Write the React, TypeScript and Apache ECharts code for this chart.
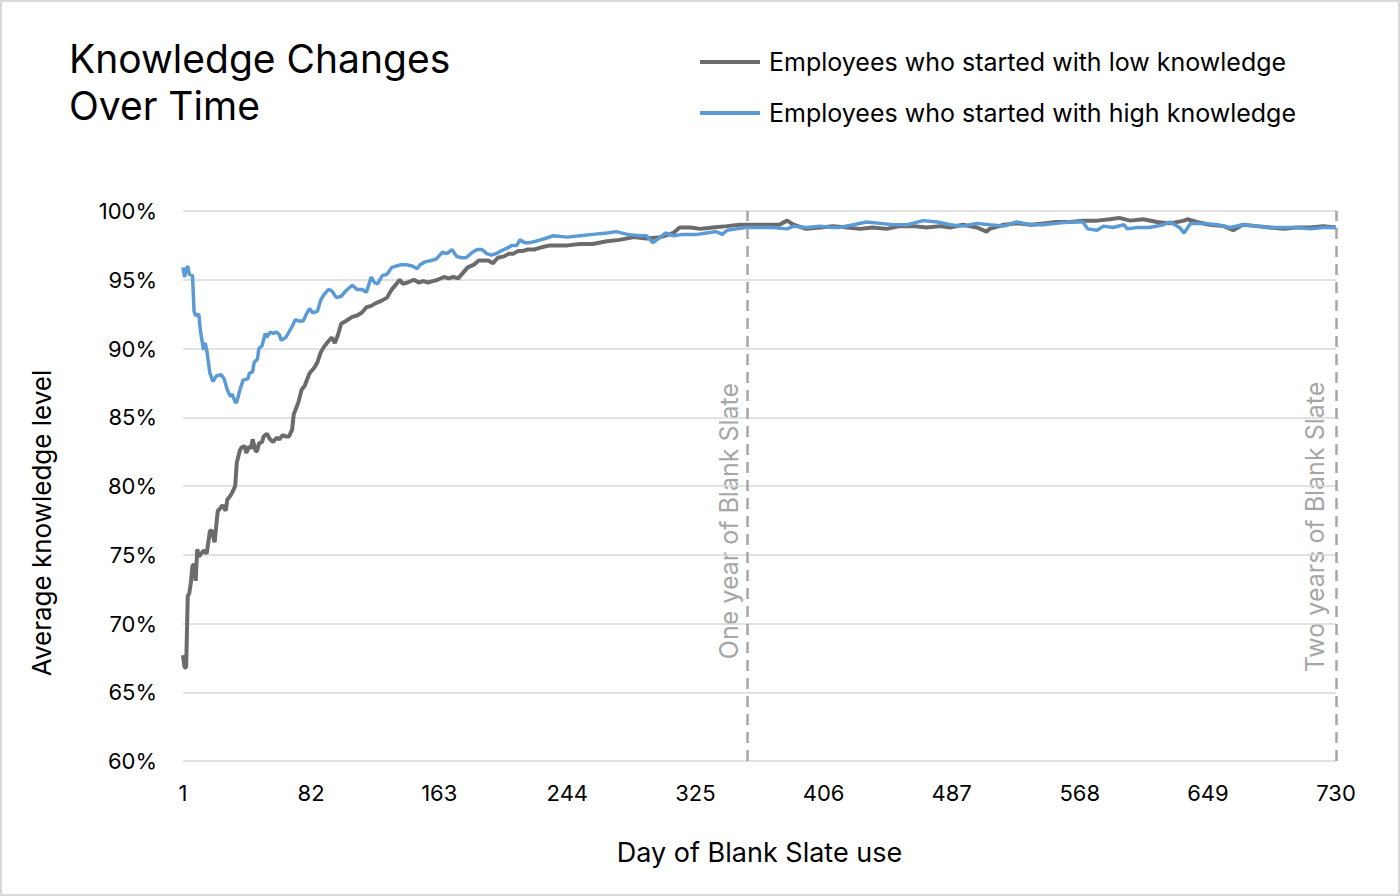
import React, { useEffect, useRef } from "react";
import * as echarts from "echarts";

const seriesNames = [
  "Employees who started with low knowledge",
  "Employees who started with high knowledge",
];

const lowDays = [
  1, 2, 3, 4, 5, 6, 7, 8, 9, 10, 11, 12, 14, 16, 18, 19, 21, 22, 23, 24, 26, 28, 29, 31, 32, 34, 35, 37, 38, 40,
  41, 43, 44, 45, 47, 48, 49, 51, 52, 54, 56, 58, 60, 62, 64, 66, 68, 70, 71, 74, 76, 78, 79, 81, 84, 86, 88, 90,
  92, 95, 97, 99, 101, 104, 108, 111, 114, 117, 120, 123, 127, 130, 133, 136, 138, 140, 143, 147, 150, 153, 156,
  159, 162, 166, 169, 172, 175, 178, 181, 185, 188, 191, 194, 197, 200, 204, 207, 210, 213, 216, 219, 223, 226,
  229, 233, 244, 252, 260, 269, 277, 286, 294, 303, 311, 315, 322, 328, 336, 345, 353, 362, 370, 378, 383, 387,
  395, 404, 412, 421, 429, 437, 446, 454, 463, 471, 480, 486, 494, 503, 509, 511, 520, 528, 537, 545, 553, 562,
  570, 579, 587, 593, 600, 608, 617, 625, 634, 636, 642, 650, 659, 665, 671, 680, 688, 697, 705, 714, 722, 730,
];
const lowValues = [
  67.7, 66.8, 66.8, 72.0, 72.2, 73.0, 74.2, 74.3, 73.1, 75.4, 74.9, 75.0, 75.3, 75.1, 76.7, 76.8, 75.9, 77.1, 78.2,
  78.3, 78.6, 78.2, 79.0, 79.3, 79.5, 80.0, 81.7, 82.6, 82.8, 82.9, 82.4, 82.9, 82.7, 83.4, 82.5, 82.6, 83.1, 83.2,
  83.6, 83.8, 83.4, 83.2, 83.5, 83.4, 83.7, 83.6, 83.6, 84.1, 85.2, 86.1, 87.0, 87.3, 87.6, 88.2, 88.6, 89.0, 89.7,
  90.1, 90.4, 90.8, 90.4, 91.0, 91.8, 92.0, 92.3, 92.4, 92.6, 93.0, 93.1, 93.3, 93.5, 93.7, 94.3, 94.7, 95.0, 94.7,
  94.8, 95.0, 94.8, 94.9, 94.8, 94.9, 95.0, 95.2, 95.1, 95.2, 95.1, 95.5, 95.9, 96.1, 96.4, 96.4, 96.4, 96.2, 96.6,
  96.7, 96.9, 96.9, 97.1, 97.1, 97.2, 97.2, 97.3, 97.4, 97.5, 97.5, 97.6, 97.6, 97.8, 97.9, 98.1, 98.0, 98.1, 98.4,
  98.8, 98.8, 98.7, 98.8, 98.9, 99.0, 99.0, 99.0, 99.0, 99.3, 99.0, 98.7, 98.8, 98.9, 98.8, 98.7, 98.8, 98.7, 98.9,
  98.9, 98.8, 98.9, 98.8, 99.0, 98.8, 98.5, 98.7, 99.0, 99.1, 99.0, 99.1, 99.2, 99.2, 99.3, 99.3, 99.4, 99.5, 99.3,
  99.4, 99.2, 99.1, 99.3, 99.4, 99.2, 99.0, 98.9, 98.6, 99.0, 98.9, 98.8, 98.7, 98.8, 98.8, 98.9, 98.8,
];

const highDays = [
  1, 2, 3, 4, 5, 7, 8, 9, 11, 12, 14, 15, 16, 18, 20, 22, 25, 27, 29, 31, 32, 34, 35, 37, 39, 42, 43, 45, 46, 48,
  49, 51, 53, 54, 56, 58, 60, 62, 63, 66, 68, 70, 72, 74, 77, 79, 81, 83, 86, 88, 90, 93, 95, 98, 101, 104, 108,
  111, 114, 117, 120, 122, 124, 127, 130, 133, 136, 139, 142, 146, 149, 151, 154, 158, 161, 165, 168, 171, 174,
  177, 180, 184, 187, 190, 193, 196, 199, 202, 206, 209, 212, 214, 217, 220, 224, 227, 230, 235, 244, 252, 260,
  269, 275, 282, 290, 294, 298, 303, 306, 311, 317, 326, 332, 338, 342, 345, 351, 357, 366, 374, 383, 387, 395,
  404, 412, 416, 425, 433, 442, 450, 459, 469, 478, 486, 494, 503, 511, 520, 528, 537, 545, 553, 562, 570, 573,
  579, 583, 589, 596, 598, 604, 612, 621, 625, 631, 634, 638, 646, 655, 663, 671, 680, 688, 697, 705, 714, 722, 730,
];
const highValues = [
  95.9, 95.2, 95.7, 96.0, 95.4, 95.3, 92.7, 92.4, 92.5, 91.3, 89.9, 90.4, 89.9, 88.2, 87.6, 88.0, 88.1, 87.8, 87.0,
  86.5, 86.7, 86.1, 86.1, 87.0, 87.7, 87.8, 88.2, 88.3, 89.0, 89.2, 90.0, 90.2, 91.1, 90.8, 91.2, 91.1, 91.2, 91.0,
  90.6, 90.8, 91.2, 91.6, 92.1, 92.0, 92.0, 92.5, 92.9, 92.6, 92.7, 93.5, 93.9, 94.3, 94.2, 93.7, 93.8, 94.2, 94.6,
  94.3, 94.3, 94.1, 95.2, 94.8, 94.7, 95.3, 95.4, 95.9, 96.0, 96.1, 96.1, 96.0, 95.8, 96.1, 96.3, 96.4, 96.5, 97.0,
  96.9, 97.2, 96.7, 96.6, 96.6, 97.0, 97.2, 97.2, 96.9, 96.8, 96.9, 97.1, 97.3, 97.5, 97.5, 97.9, 97.7, 97.7, 97.8,
  97.9, 98.0, 98.2, 98.1, 98.2, 98.3, 98.4, 98.5, 98.3, 98.2, 98.2, 97.7, 98.1, 98.4, 98.2, 98.3, 98.3, 98.4, 98.5,
  98.3, 98.6, 98.7, 98.8, 98.8, 98.8, 98.7, 98.9, 98.8, 98.9, 98.8, 98.8, 99.0, 99.2, 99.1, 99.0, 99.0, 99.3, 99.2,
  99.0, 98.9, 99.1, 99.0, 98.9, 99.2, 99.0, 99.0, 99.1, 99.2, 99.2, 98.7, 98.6, 98.9, 98.8, 99.0, 98.7, 98.8, 98.8,
  99.0, 99.2, 98.8, 98.4, 99.1, 99.1, 99.0, 98.8, 99.0, 98.9, 98.8, 98.8, 98.8, 98.7, 98.8, 98.8,
];

const milestoneDays = [358, 730];
const milestoneLabels = ["One year of Blank Slate", "Two years of Blank Slate"];

const FONT = "Inter, 'Noto Sans', sans-serif";

export default function App() {
  const ref = useRef<HTMLDivElement>(null);

  useEffect(() => {
    if (!ref.current) return;
    const chart = echarts.init(ref.current, undefined, { renderer: "svg" });
    const low = lowDays.map((d, i) => [d, lowValues[i]]);
    const high = highDays.map((d, i) => [d, highValues[i]]);

    chart.setOption({
      animation: false,
      backgroundColor: "#ffffff",
      textStyle: { fontFamily: FONT },
      title: {
        text: "Knowledge Changes\nOver Time",
        left: 69,
        top: 35,
        padding: 0,
        textStyle: {
          fontFamily: FONT,
          fontSize: 39,
          fontWeight: "normal",
          color: "#000000",
          lineHeight: 47,
        },
      },
      legend: {
        orient: "vertical",
        left: 700,
        top: 48,
        padding: 0,
        itemWidth: 60,
        itemHeight: 4,
        itemGap: 23,
        icon: "rect",
        textStyle: { fontFamily: FONT, fontSize: 25, color: "#000000", lineHeight: 28, padding: [0, 0, 0, 4] },
        data: seriesNames,
      },
      grid: { left: 183, right: 64, top: 211, bottom: 135, containLabel: false },
      xAxis: {
        type: "value",
        min: 1,
        max: 730,
        interval: 81,
        name: "Day of Blank Slate use",
        nameLocation: "middle",
        nameGap: 78,
        nameTextStyle: { fontFamily: FONT, fontSize: 27, color: "#000000" },
        axisLine: { show: false },
        axisTick: { show: false },
        splitLine: { show: false },
        axisLabel: { fontFamily: FONT, fontSize: 22, color: "#000000", margin: 21 },
      },
      yAxis: {
        type: "value",
        min: 60,
        max: 100,
        interval: 5,
        name: "Average knowledge level",
        nameLocation: "middle",
        nameGap: 129,
        nameRotate: 90,
        nameTextStyle: { fontFamily: FONT, fontSize: 26, color: "#000000", padding: [0, 74, 0, 0] },
        axisLine: { show: false },
        axisTick: { show: false },
        splitLine: { lineStyle: { color: "#d9d9d9", width: 1.5 } },
        axisLabel: { fontFamily: FONT, fontSize: 22, color: "#000000", margin: 26, formatter: "{value}%" },
      },
      series: [
        {
          name: seriesNames[0],
          type: "line",
          data: low,
          showSymbol: false,
          symbol: "none",
          itemStyle: { color: "#6b6b6b" },
          lineStyle: { color: "#6b6b6b", width: 4 },
          markLine: {
            silent: true,
            symbol: "none",
            label: { show: false },
            lineStyle: { color: "#a6a6a6", width: 2.5, type: [11, 7] },
            data: milestoneDays.map((d) => ({ xAxis: d })),
          },
          z: 2,
        },
        {
          name: seriesNames[1],
          type: "line",
          data: high,
          showSymbol: false,
          symbol: "none",
          itemStyle: { color: "#5b9bd5" },
          lineStyle: { color: "#5b9bd5", width: 3.5 },
          z: 3,
        },
      ],
      graphic: [
        {
          type: "text",
          x: 729,
          y: 521,
          rotation: Math.PI / 2,
          style: {
            text: milestoneLabels[0],
            fill: "#a6a6a6",
            font: `25px ${FONT}`,
            align: "center",
            verticalAlign: "middle",
          },
        },
        {
          type: "text",
          x: 1315,
          y: 527,
          rotation: Math.PI / 2,
          style: {
            text: milestoneLabels[1],
            fill: "#a6a6a6",
            font: `25px ${FONT}`,
            align: "center",
            verticalAlign: "middle",
          },
        },
      ],
    });
    return () => chart.dispose();
  }, []);

  return (
    <>
      <div ref={ref} style={{ position: "fixed", left: 0, top: 0, width: 1400, height: 896 }} />
      <div
        style={{
          position: "fixed",
          left: 0,
          top: 0,
          width: 1400,
          height: 896,
          boxSizing: "border-box",
          border: "2px solid #d9d9d9",
          pointerEvents: "none",
        }}
      />
    </>
  );
}
